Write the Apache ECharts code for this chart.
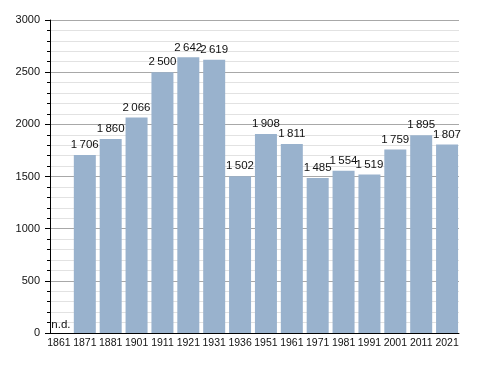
<!DOCTYPE html>
<html><head><meta charset="utf-8">
<script src="https://cdn.jsdelivr.net/npm/echarts@6/dist/echarts.min.js"></script>
<style>html,body{margin:0;padding:0;background:#fff}#c{width:488px;height:373px}</style>
</head><body><div id="c"></div>
<script>
const categories = ['1861','1871','1881','1901','1911','1921','1931','1936','1951','1961','1971','1981','1991','2001','2011','2021'];
const population = [null,1706,1860,2066,2500,2642,2619,1502,1908,1811,1485,1554,1519,1759,1895,1807];
const yTicks = [0,500,1000,1500,2000,2500,3000];

function fmt(v){
  const s = String(v);
  return s.length > 3 ? s.slice(0, s.length-3) + '\u2009' + s.slice(s.length-3) : s;
}
const FONT = 'Liberation Sans, Arial, sans-serif';
const yMin = yTicks[0], yMax = yTicks[yTicks.length-1];

const chart = echarts.init(document.getElementById('c'), null, {renderer:'canvas'});
chart.setOption({
  animation:false,
  grid:[
    {left:50,right:29,top:20,bottom:40,containLabel:false},
    {left:46,right:28,top:20,bottom:40,containLabel:false}
  ],
  xAxis:[
    {gridIndex:0, type:'value', min:0, max:1, splitLine:{show:false},
      axisLine:{show:true,lineStyle:{color:'#000',width:1}},
      axisTick:{show:false}, axisLabel:{show:false}},
    {gridIndex:1, type:'category', data:categories,
      axisLine:{show:false},
      axisTick:{show:false},
      axisLabel:{color:'#111',fontSize:10.5,fontFamily:FONT,margin:5,interval:0}}
  ],
  yAxis:[
    {gridIndex:0, type:'value', min:yMin, max:yMax, interval:500,
      axisLine:{show:true,lineStyle:{color:'#000',width:1}},
      axisTick:{show:true,length:5,lineStyle:{color:'#000'}},
      minorTick:{show:true,splitNumber:5,length:3,lineStyle:{color:'#000'}},
      splitLine:{lineStyle:{color:'#a8a8a8',width:1}},
      minorSplitLine:{show:true,lineStyle:{color:'#e2e2e2',width:1}},
      axisLabel:{color:'#111',fontSize:11,fontFamily:FONT,margin:10,formatter:v => String(v)}},
    {gridIndex:1, type:'value', min:yMin, max:yMax, show:false, splitLine:{show:false}}
  ],
  series:[{
    type:'bar', xAxisIndex:1, yAxisIndex:1, z:1,
    data:population.map(v => v === null ? {value:0, label:{show:true, formatter:'n.d.', position:'top', distance:2, offset:[2,0], color:'#111'}} : v),
    barCategoryGap:'15%',
    itemStyle:{color:'#99b2cd'},
    label:{show:true,position:'top',distance:4,color:'#111',fontSize:11.5,fontFamily:FONT,
      formatter:p => p.value === 0 ? 'n.d.' : fmt(p.value)}
  }]
});
</script></body></html>
